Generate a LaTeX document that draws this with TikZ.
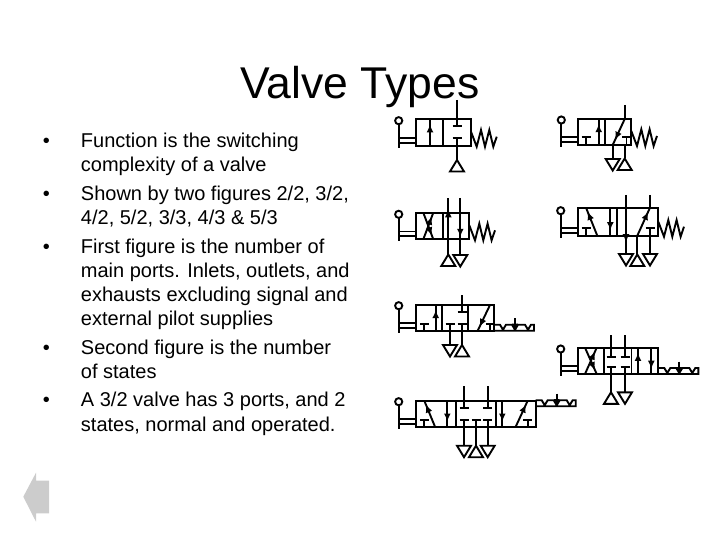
\documentclass[tikz,border=0pt]{standalone}
\usepackage{fontspec}
\setmainfont{Liberation Sans}
\usetikzlibrary{arrows.meta, decorations.markings}

\tikzset{
    itemtext/.style={anchor=base west, align=left, inner sep=0pt, font=\fontsize{20}{24.2}\selectfont},
    dot/.style={anchor=base, font=\fontsize{20}{24.2}\selectfont},
    flow/.style={postaction={decorate, decoration={markings, mark=at position #1 with {\arrow{Latex[length=8pt,width=7pt]}}}}},
    lever/.pic={
        \draw (-17,-25) circle (3.6);
        \draw (-17,-21.4) -- (-17,2);
        \draw (-17,-7.8) -- (0,-7.8);
        \draw (-17,-3) -- (0,-3);
    },
    spring/.pic={
        \draw (0,-14) -- (5.7,1) -- (10,-15.7) -- (14,1) -- (18.3,-15.7) -- (22.3,1) -- (25.7,-9);
    },
    detent/.pic={
        \draw (0,0) -- (40,0) -- (40,-6) -- (37,-6) -- (34,-1) -- (31,-6) -- (24,-6) -- (21,-1) -- (18,-6) -- (12,-6) -- (9,-1) -- (6,-6) -- (0,-6);
        \draw[-{Latex[length=6pt,width=6pt]}] (21,-12.5) -- (21,-1);
    },
    tee/.pic={
        \draw (-4.5,0) -- (4.5,0);
    },
    tankup/.pic={
        \draw (0,0) -- (-7,11.5) -- (7,11.5) -- cycle;
    },
    tankdown/.pic={
        \draw (-7,0) -- (7,0) -- (0,11.5) -- cycle;
    },
}

\begin{document}
\begin{tikzpicture}[x=1pt, y=-1pt, line width=1.9pt]
    \useasboundingbox (0,0) rectangle (720,540);

    \node[anchor=base, font=\fontsize{44.5}{48}\selectfont] (title) at (360,99) {Valve Types};

    \node[dot] (dot1) at (46.5,147.7) {•};
    \node[dot] (dot2) at (46.5,200.7) {•};
    \node[dot] (dot3) at (46.5,253.3) {•};
    \node[dot] (dot4) at (46.5,354.3) {•};
    \node[dot] (dot5) at (46.5,406.7) {•};

    \node[itemtext] (item1) at (80,172) {Function is the switching\\complexity of a valve};
    \node[itemtext] (item2) at (80,224.7) {Shown by two figures 2/2, 3/2,\\4/2, 5/2, 3/3, 4/3 \& 5/3};
    \node[itemtext] (item3) at (80,325.7) {First figure is the number of\\main ports. Inlets, outlets, and\\exhausts excluding signal and\\external pilot supplies};
    \node[itemtext] (item4) at (80,378.3) {Second figure is the number\\of states};
    \node[itemtext] (item5) at (80,431) {A 3/2 valve has 3 ports, and 2\\states, normal and operated.};

    % 2/2
    \draw (415.7,119) rectangle (471,145.7);
    \draw (443,119) -- (443,145.7);
    \pic at (415.7,145.7) {lever};
    \pic at (471,145.7) {spring};
    \draw[flow=0.8] (430,145.7) -- (430,119);
    \draw (457,100) -- (457,126);
    \pic at (457,126) {tee};
    \pic at (457,137.7) {tee};
    \draw (457,137.7) -- (457,160);
    \pic at (457,160) {tankup};

    % 3/2
    \draw (578.3,119) rectangle (631.3,145);
    \draw (605,119) -- (605,145);
    \pic at (578.3,145) {lever};
    \pic at (631.3,145) {spring};
    \pic at (586,137.3) {tee};
    \draw (586,137.3) -- (586,145);
    \draw[flow=0.8] (598.7,145) -- (598.7,119);
    \draw (624.7,105) -- (624.7,119);
    \draw[flow=0.8] (624.7,119) -- (612.7,145);
    \pic at (626.5,137.3) {tee};
    \draw (626.5,137.3) -- (626.5,145);
    \draw (612.7,145) -- (612.7,159);
    \pic at (612.7,159) {tankdown};
    \draw (624.7,145) -- (624.7,158.5);
    \pic at (624.7,158.5) {tankup};

    % 4/2
    \draw (415.7,212.7) rectangle (469.3,239.3);
    \draw (442.7,212.7) -- (442.7,239.3);
    \pic at (415.7,239.3) {lever};
    \pic at (469.3,239.3) {spring};
    \draw[flow=0.85] (423.3,212.7) -- (433.3,239.3);
    \draw[flow=0.85] (423.3,239.3) -- (433.3,212.7);
    \draw[flow=0.8] (448.3,254.5) -- (448.3,198);
    \draw[flow=0.68] (460.3,198) -- (460.3,255);
    \pic at (448.3,254.5) {tankup};
    \pic at (460.3,255) {tankdown};

    % 5/2
    \draw (577.7,207.7) rectangle (658.3,235.7);
    \draw (617.3,207.7) -- (617.3,235.7);
    \pic at (577.7,235.7) {lever};
    \pic at (658.3,235.7) {spring};
    \draw[flow=0.85] (597.3,235.7) -- (586,207.7);
    \pic at (586,228.3) {tee};
    \draw (586,228.3) -- (586,235.7);
    \draw[flow=0.8] (610.3,207.7) -- (610.3,235.7);
    \draw[flow=0.8] (626,195) -- (626,254);
    \draw (650,195) -- (650,207.7);
    \draw[flow=0.85] (637.3,235.7) -- (650,207.7);
    \pic at (650,228.3) {tee};
    \draw (637.3,235.7) -- (637.3,254.5);
    \draw (650,228.3) -- (650,254);
    \pic at (626,254) {tankdown};
    \pic at (637.3,254.5) {tankup};
    \pic at (650,254) {tankdown};

    % 3/3
    \draw (415.7,305) rectangle (494,330.7);
    \draw (442.3,305) -- (442.3,330.7);
    \draw (468.3,305) -- (468.3,330.7);
    \pic at (415.7,330.7) {lever};
    \pic at (494,330.7) {detent};
    \pic at (424.3,324) {tee};
    \draw (424.3,324) -- (424.3,330.7);
    \draw[flow=0.8] (435.7,330.7) -- (435.7,305);
    \draw (462,295) -- (462,311.7);
    \pic at (462,311.7) {tee};
    \pic at (450,324) {tee};
    \pic at (462,324) {tee};
    \draw (450,324) -- (450,345);
    \draw (462,324) -- (462,345);
    \pic at (450,345) {tankdown};
    \pic at (462,345) {tankup};
    \draw[flow=0.85] (490,305) -- (477.7,330.7);
    \pic at (490,324) {tee};
    \draw (490,324) -- (490,330.7);

    % 4/3
    \draw (577.7,347.7) rectangle (658.3,374);
    \draw (604,347.7) -- (604,374);
    \draw (631.5,347.7) -- (631.5,374);
    \pic at (577.7,374) {lever};
    \pic at (658.3,374) {detent};
    \draw[flow=0.85] (585,347.7) -- (596.7,374);
    \draw[flow=0.85] (585,374) -- (596.7,347.7);
    \draw (611,335) -- (611,356.7);
    \draw (625,335) -- (625,356.7);
    \pic at (611,356.7) {tee};
    \pic at (625,356.7) {tee};
    \pic at (611,367.3) {tee};
    \pic at (625,367.3) {tee};
    \draw (611,367.3) -- (611,392.3);
    \draw (625,367.3) -- (625,392.3);
    \pic at (611,392.3) {tankup};
    \pic at (625,392.3) {tankdown};
    \draw[flow=0.8] (638,374) -- (638,347.7);
    \draw[flow=0.8] (651.3,347.7) -- (651.3,374);

    % 5/3
    \draw (415.7,400.7) rectangle (535.7,426.7);
    \draw (455.7,400.7) -- (455.7,426.7);
    \draw (495.7,400.7) -- (495.7,426.7);
    \pic at (415.7,426.7) {lever};
    \pic at (535.7,406.2) {detent};
    \draw[flow=0.85] (435,426.7) -- (424.3,400.7);
    \pic at (424.3,420) {tee};
    \draw (424.3,420) -- (424.3,426.7);
    \draw[flow=0.8] (447.3,400.7) -- (447.3,426.7);
    \draw (464,386) -- (464,408.3);
    \draw (487.7,386) -- (487.7,408.3);
    \pic at (464,408.3) {tee};
    \pic at (487.7,408.3) {tee};
    \pic at (464,420) {tee};
    \pic at (476,420) {tee};
    \pic at (487.7,420) {tee};
    \draw (464,420) -- (464,445.7);
    \draw (476,420) -- (476,445.7);
    \draw (487.7,420) -- (487.7,445.7);
    \pic at (464,445.7) {tankdown};
    \pic at (476,445.7) {tankup};
    \pic at (487.7,445.7) {tankdown};
    \draw[flow=0.8] (502.3,400.7) -- (502.3,426.7);
    \draw[flow=0.85] (515.7,426.7) -- (527.7,400.7);
    \pic at (527.7,420) {tee};
    \draw (527.7,420) -- (527.7,426.7);

    % back button
    \fill[black!20] (23.3,496.7) -- (36,472.7) -- (36,480.7) -- (49,480.7) -- (49,513.3) -- (36,513.3) -- (36,521.7) -- cycle;
\end{tikzpicture}
\end{document}
